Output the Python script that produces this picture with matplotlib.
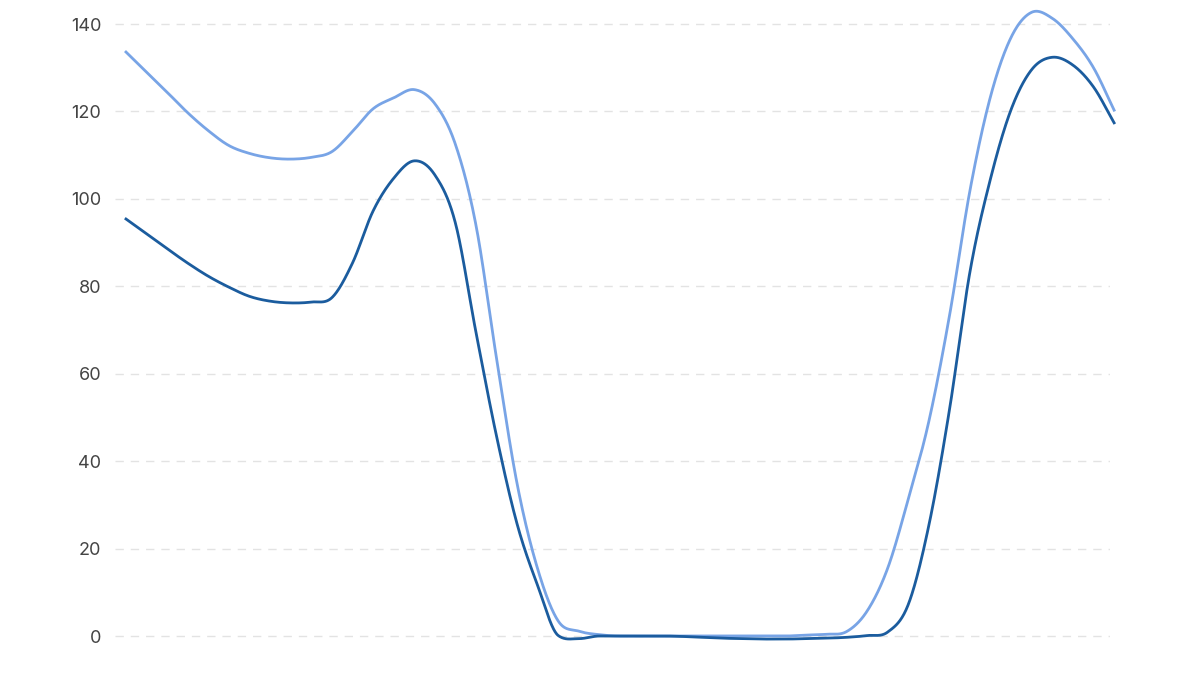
import numpy as np
import matplotlib
matplotlib.use("Agg")
import matplotlib.pyplot as plt

# half-hour steps, 0..24
hours = np.arange(49) * 0.5

dark = [95.4, 92.0, 88.6, 85.3, 82.3, 79.8, 77.7, 76.6, 76.2, 76.4,
        77.4, 85.3, 97.2, 104.7, 108.7, 105.5, 94.5, 69.5, 45.7, 25.6,
        11.5, 0.1, -0.6, 0.0, 0.0, 0.0, 0.0, -0.1, -0.3, -0.5,
        -0.6, -0.7, -0.7, -0.6, -0.5, -0.3, 0.1, 0.9, 7.2, 25.3,
        51.7, 83.4, 104.7, 120.5, 129.6, 132.4, 130.6, 125.6, 117.4]

light = [133.6, 129.0, 124.4, 119.7, 115.6, 112.2, 110.4, 109.4, 109.1, 109.5,
         110.8, 115.4, 120.6, 123.1, 125.0, 121.8, 112.5, 94.0, 63.5, 34.8,
         15.3, 3.4, 1.1, 0.3, 0.0, 0.0, 0.0, 0.0, 0.0, 0.0,
         0.0, 0.0, 0.0, 0.2, 0.4, 1.0, 5.7, 15.5, 31.3, 49.1,
         73.2, 102.0, 123.5, 137.0, 142.7, 141.3, 136.6, 130.0, 120.3]

y_ticks = [0, 20, 40, 60, 80, 100, 120, 140]


def smooth(x, y, xs):
    # catmull-rom style cubic through the points, only for drawing
    x = np.asarray(x, float)
    y = np.asarray(y, float)
    h = np.diff(x)
    d = np.diff(y) / h
    m = np.zeros_like(y)
    m[1:-1] = (y[2:] - y[:-2]) / (x[2:] - x[:-2])
    m[0] = d[0]
    m[-1] = d[-1]
    # soften only the worst overshoots
    for k in range(len(d)):
        if d[k] == 0:
            m[k] = m[k + 1] = 0
            continue
        a = m[k] / d[k]
        b = m[k + 1] / d[k]
        s = a * a + b * b
        if s > 25:
            tau = 5 / np.sqrt(s)
            m[k] = tau * a * d[k]
            m[k + 1] = tau * b * d[k]
    i = np.clip(np.searchsorted(x, xs) - 1, 0, len(x) - 2)
    t = (xs - x[i]) / h[i]
    h00 = 2 * t**3 - 3 * t**2 + 1
    h10 = t**3 - 2 * t**2 + t
    h01 = -2 * t**3 + 3 * t**2
    h11 = t**3 - t**2
    return h00 * y[i] + h10 * h[i] * m[i] + h01 * y[i + 1] + h11 * h[i] * m[i + 1]


plt.rcParams['font.family'] = ['Inter', 'DejaVu Sans']

fig = plt.figure(figsize=(12, 6.75), dpi=100)
ax = fig.add_axes([115 / 1200, 0, 995 / 1200, 1])

xs = np.linspace(0, 24, 2000)
ax.plot(xs, smooth(hours, light, xs), color="#78a4e6", lw=2.0, clip_on=False, zorder=3)
ax.plot(xs, smooth(hours, dark, xs), color="#1b5c9e", lw=2.0, clip_on=False, zorder=4)

ax.set_xlim(-0.267, 23.9)
ax.set_ylim(-8.92, 145.5)
ax.set_yticks(y_ticks)
ax.set_xticks([])
ax.tick_params(axis="y", length=0, pad=10, labelsize=13, labelcolor="#444444")
for s in ax.spines.values():
    s.set_visible(False)
ax.grid(axis="y", color="#e3e3e3", linestyle=(0, (6, 5)), linewidth=1)
ax.set_axisbelow(True)

fig.savefig("out.png", dpi=100)
